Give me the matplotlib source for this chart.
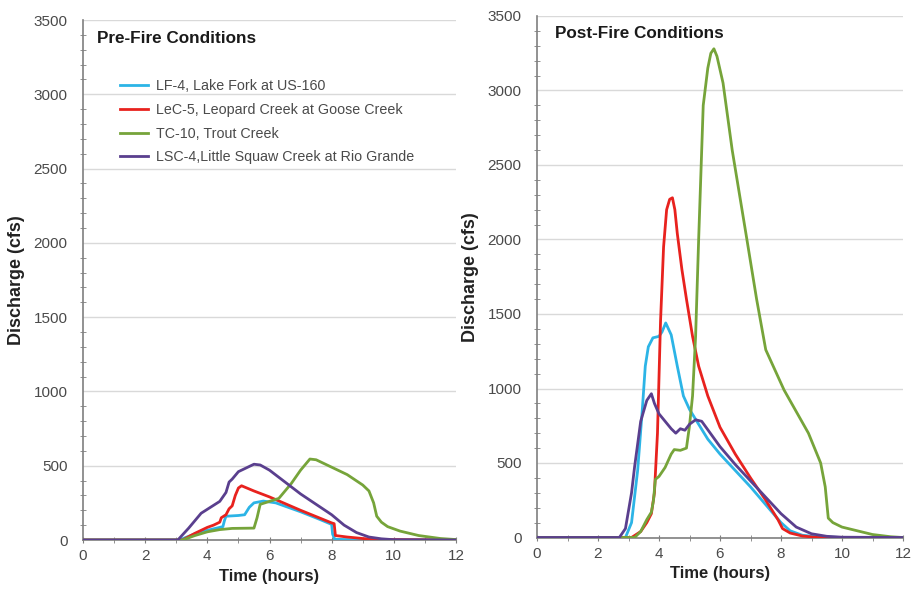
import matplotlib
matplotlib.use("Agg")
import matplotlib.pyplot as plt
from matplotlib.ticker import MultipleLocator

plt.rcParams['font.family'] = ['Liberation Sans', 'DejaVu Sans']

# ---------------- data ----------------
labels = ["LF-4, Lake Fork at US-160",
          "LeC-5, Leopard Creek at Goose Creek",
          "TC-10, Trout Creek",
          "LSC-4,Little Squaw Creek at Rio Grande"]
colors = ["#2cb4e6", "#e8221e", "#76a43a", "#5a3f8e"]

# Pre-fire
pre_lf_t = [0, 3.1, 3.4, 3.7, 4.0, 4.3, 4.5, 4.55, 4.6, 5.0, 5.2, 5.35, 5.5, 5.8, 6.2, 7.0, 7.6, 8.0, 8.03, 8.1, 9, 12]
pre_lf_q = [0, 0, 25, 50, 65, 80, 90, 130, 160, 165, 170, 220, 250, 262, 250, 190, 140, 105, 40, 5, 0, 0]

pre_lec_t = [0, 3.2, 3.6, 4.0, 4.2, 4.4, 4.45, 4.6, 4.7, 4.8, 4.9, 5.0, 5.1, 5.5, 6.0, 7.0, 8.0, 8.08, 8.12, 8.5, 9.0, 9.5, 12]
pre_lec_q = [0, 0, 45, 85, 100, 120, 150, 170, 210, 230, 300, 350, 365, 330, 290, 200, 115, 110, 30, 20, 10, 3, 0]

pre_tc_t = [0, 3.2, 3.6, 4.0, 4.4, 4.8, 5.5, 5.6, 5.7, 6.0, 6.3, 6.7, 7.0, 7.3, 7.5, 8.0, 8.5, 9.0, 9.2, 9.35, 9.45, 9.6, 9.8, 10.2, 10.8, 11.5, 12]
pre_tc_q = [0, 0, 30, 55, 70, 78, 80, 150, 240, 260, 280, 380, 470, 545, 540, 490, 440, 370, 330, 250, 160, 120, 90, 60, 30, 10, 3]

pre_lsc_t = [0, 3.05, 3.4, 3.8, 4.1, 4.4, 4.6, 4.7, 4.8, 5.0, 5.2, 5.5, 5.7, 6.0, 7.0, 8.0, 8.4, 8.8, 9.2, 9.6, 10, 12]
pre_lsc_q = [0, 0, 80, 180, 220, 260, 320, 390, 410, 460, 480, 510, 505, 470, 310, 170, 100, 50, 20, 8, 2, 0]

# Post-fire
post_lf_t = [0, 2.9, 3.1, 3.3, 3.45, 3.55, 3.65, 3.8, 4.0, 4.1, 4.22, 4.4, 4.6, 4.8, 5.0, 5.3, 5.6, 6.0, 6.5, 7.0, 7.5, 8.0, 8.3, 8.7, 9.2, 10, 12]
post_lf_q = [0, 0, 100, 450, 850, 1150, 1280, 1340, 1350, 1380, 1440, 1360, 1150, 950, 860, 760, 660, 560, 450, 340, 220, 100, 45, 15, 5, 0, 0]

post_lec_t = [0, 3.1, 3.4, 3.6, 3.75, 3.85, 3.95, 4.05, 4.15, 4.25, 4.35, 4.44, 4.52, 4.6, 4.75, 4.9, 5.1, 5.3, 5.6, 6.0, 6.5, 7.0, 7.5, 7.9, 8.05, 8.3, 8.7, 9.2, 12]
post_lec_q = [0, 0, 40, 100, 160, 300, 700, 1450, 1950, 2200, 2270, 2280, 2200, 2040, 1800, 1600, 1350, 1150, 950, 740, 560, 400, 250, 120, 60, 30, 10, 0, 0]

post_tc_t = [0, 3.2, 3.4, 3.6, 3.75, 3.82, 3.88, 4.0, 4.2, 4.4, 4.5, 4.7, 4.9, 5.0, 5.1, 5.2, 5.3, 5.45, 5.6, 5.7, 5.8, 5.9, 6.1, 6.4, 6.85, 7.2, 7.5, 8.1, 8.9, 9.3, 9.45, 9.55, 9.7, 10.0, 10.4, 11.0, 11.6, 12]
post_tc_q = [0, 0, 40, 120, 170, 250, 390, 410, 470, 560, 590, 585, 600, 750, 950, 1350, 2000, 2900, 3150, 3250, 3280, 3230, 3050, 2600, 2040, 1600, 1260, 990, 700, 500, 340, 130, 100, 70, 50, 20, 5, 0]

post_lsc_t = [0, 2.7, 2.9, 3.1, 3.2, 3.4, 3.6, 3.75, 3.85, 4.0, 4.2, 4.4, 4.55, 4.7, 4.85, 5.0, 5.2, 5.4, 6.0, 6.5, 7.0, 7.5, 8.0, 8.5, 9.0, 9.5, 10, 12]
post_lsc_q = [0, 0, 60, 300, 475, 780, 920, 965, 900, 830, 780, 730, 700, 730, 720, 760, 790, 780, 610, 490, 380, 270, 160, 70, 25, 8, 2, 0]

pre_series = [(pre_lf_t, pre_lf_q), (pre_lec_t, pre_lec_q), (pre_tc_t, pre_tc_q), (pre_lsc_t, pre_lsc_q)]
post_series = [(post_lf_t, post_lf_q), (post_lec_t, post_lec_q), (post_tc_t, post_tc_q), (post_lsc_t, post_lsc_q)]

x_ticks = [0, 2, 4, 6, 8, 10, 12]
y_ticks = [0, 500, 1000, 1500, 2000, 2500, 3000, 3500]

# ---------------- figure ----------------
fig = plt.figure(figsize=(9.14, 5.92), dpi=100)
ax1 = fig.add_axes([83/914, 1 - 540/592, 373/914, 520/592])
ax2 = fig.add_axes([537/914, 1 - 537.5/592, 366/914, 521.5/592])

axis_col = "#7f7f7f"
text_col = "#4a4a4a"

def style(ax, title, tx, ty):
    ax.set_xlim(0, 12)
    ax.set_ylim(0, 3500)
    ax.set_xticks(x_ticks)
    ax.set_yticks(y_ticks)
    ax.xaxis.set_minor_locator(MultipleLocator(1))
    ax.yaxis.set_minor_locator(MultipleLocator(100))
    ax.grid(axis='y', which='major', color='#d9d9d9', lw=1.0)
    ax.set_axisbelow(True)
    for s in ['top', 'right']:
        ax.spines[s].set_visible(False)
    for s in ['left', 'bottom']:
        ax.spines[s].set_color(axis_col)
        ax.spines[s].set_linewidth(1.2)
    ax.tick_params(axis='both', which='major', direction='inout', length=5,
                   color=axis_col, labelcolor=text_col, labelsize=11)
    ax.tick_params(axis='both', which='minor', direction='inout', length=4,
                   color=axis_col)
    ax.tick_params(axis='y', which='major', length=0, pad=11)
    ax.tick_params(axis='x', which='major', pad=4)
    ax.set_xlabel("Time (hours)", fontsize=12, fontweight='bold', color='#222222', labelpad=4)
    ax.set_ylabel("Discharge (cfs)", fontsize=13, fontweight='bold', color='#222222', labelpad=6)
    ax.text(tx, ty, title, transform=ax.transAxes, fontsize=12.3, fontweight='bold',
            color='#1a1a1a', ha='left', va='center')

for ax, series in [(ax1, pre_series), (ax2, post_series)]:
    for (t, q), c, lab in zip(series, colors, labels):
        ax.plot(t, q, color=c, lw=2.0, label=lab, solid_joinstyle='round', zorder=3)

style(ax1, "Pre-Fire Conditions", 0.038, 0.965)
style(ax2, "Post-Fire Conditions", 0.048, 0.967)

leg = ax1.legend(loc='upper left', bbox_to_anchor=(0.099, 0.886), frameon=False,
                 fontsize=10.3, handlelength=1.95, handletextpad=0.6, labelspacing=0.68,
                 borderpad=0, borderaxespad=0)
for txt in leg.get_texts():
    txt.set_color(text_col)

fig.savefig("out.png", dpi=100, facecolor='white')
